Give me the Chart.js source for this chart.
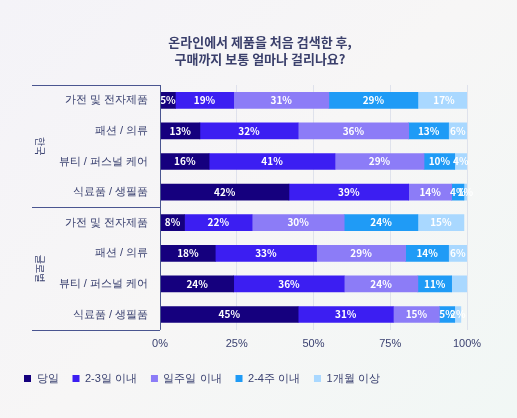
<!DOCTYPE html>
<html>
<head>
<meta charset="utf-8">
<script src="https://cdn.jsdelivr.net/npm/chart.js@4"></script>
<style>
  html, body { margin: 0; padding: 0; }
  body {
    width: 517px; height: 418px; overflow: hidden;
    background: linear-gradient(135deg, #f4f3f8 0%, #f7f6f6 50%, #f1f7f5 100%);
    font-family: "Noto Sans CJK KR", "Noto Sans", sans-serif;
  }
  #wrap { position: absolute; left: 0; top: 0; width: 517px; height: 418px; }
</style>
</head>
<body>
<div id="wrap"><canvas id="chart"></canvas></div>
<script>
// 카테고리
const categories = [
  "가전 및 전자제품", "패션 / 의류", "뷰티 / 퍼스널 케어", "식료품 / 생필품",
  "가전 및 전자제품", "패션 / 의류", "뷰티 / 퍼스널 케어", "식료품 / 생필품"
];
const groups = ["한국", "글로벌"];
const titleLines = ["온라인에서 제품을 처음 검색한 후,", "구매까지 보통 얼마나 걸리나요?"];

// 시리즈 값 (%)
const sameDay   = [5, 13, 16, 42, 8, 18, 24, 45];
const days2to3  = [19, 32, 41, 39, 22, 33, 36, 31];
const withinWeek = [31, 36, 29, 14, 30, 29, 24, 15];
const weeks2to4 = [29, 13, 10, 4, 24, 14, 11, 5];
const overMonth = [17, 6, 4, 1, 15, 6, 5, 2];

const seriesNames = ["당일", "2-3일 이내", "일주일 이내", "2-4주 이내", "1개월 이상"];
const colors = ["#15007e", "#3c1ef2", "#8c7cf7", "#1f9bf6", "#a9d8ff"];
const tickLabels = ["0%", "25%", "50%", "75%", "100%"];

// 라벨을 숨길 막대 (시리즈, 행)
const hiddenLabels = [[4, 6]];

const labelPlugin = {
  id: "segLabels",
  afterDatasetsDraw(chart) {
    const ctx = chart.ctx;
    ctx.save();
    ctx.font = "bold 10px 'Noto Sans CJK KR', sans-serif";
    ctx.fillStyle = "#ffffff";
    ctx.textAlign = "center";
    ctx.textBaseline = "middle";
    chart.data.datasets.forEach((ds, di) => {
      chart.getDatasetMeta(di).data.forEach((bar, i) => {
        if (hiddenLabels.some(h => h[0] === di && h[1] === i)) return;
        const x = (bar.x + bar.base) / 2;
        ctx.fillText(ds.data[i] + "%", x, bar.y);
      });
    });
    ctx.restore();
  }
};

const groupPlugin = {
  id: "groupLines",
  afterDraw(chart) {
    const ctx = chart.ctx;
    const area = chart.chartArea;
    const y = chart.scales.y;
    const step = (y.getPixelForValue(1) - y.getPixelForValue(0));
    const top = y.getPixelForValue(0) - step / 2;
    const mid = y.getPixelForValue(4) - step / 2;
    const bot = y.getPixelForValue(7) + step / 2;
    ctx.save();
    ctx.strokeStyle = "#4a5590";
    ctx.lineWidth = 1;
    ctx.beginPath();
    [top, mid, bot].forEach(py => {
      ctx.moveTo(32, Math.round(py) + 0.5);
      ctx.lineTo(area.left, Math.round(py) + 0.5);
    });
    ctx.moveTo(area.left + 0.5, top);
    ctx.lineTo(area.left + 0.5, bot);
    ctx.stroke();

    ctx.fillStyle = "#3a4170";
    ctx.font = "10px 'Noto Sans CJK KR', sans-serif";
    ctx.textAlign = "center";
    ctx.textBaseline = "middle";
    [[groups[0], (top + mid) / 2], [groups[1], (mid + bot) / 2]].forEach(([t, py]) => {
      ctx.save();
      ctx.translate(40, py);
      ctx.rotate(Math.PI / 2);
      ctx.fillText(t, 0, 0);
      ctx.restore();
    });

    // 제목
    ctx.fillStyle = "#3a3f6b";
    ctx.font = "bold 13px 'Noto Sans CJK KR', sans-serif";
    ctx.fillText(titleLines[0], 260, 42);
    ctx.fillText(titleLines[1], 260, 59);
    ctx.restore();
  }
};

const values = [sameDay, days2to3, withinWeek, weeks2to4, overMonth];

new Chart(document.getElementById("chart"), {
  type: "bar",
  data: {
    labels: categories,
    datasets: values.map((d, i) => ({
      label: seriesNames[i],
      data: d,
      backgroundColor: colors[i],
      borderWidth: 0,
      barThickness: 16
    }))
  },
  options: {
    indexAxis: "y",
    responsive: true,
    maintainAspectRatio: false,
    animation: false,
    layout: { padding: { left: 10, right: 50, top: 85, bottom: 24 } },
    scales: {
      x: {
        stacked: true,
        min: 0,
        max: 100,
        ticks: {
          stepSize: 25,
          color: "#3a4170",
          font: { size: 11 },
          padding: 8,
          callback: (v, i) => tickLabels[i]
        },
        grid: { color: "rgba(200,205,225,0.5)", drawTicks: false },
        border: { display: false }
      },
      y: {
        stacked: true,
        ticks: { color: "#3a4170", font: { size: 11 }, padding: 4 },
        grid: { display: false },
        border: { display: false },
        afterFit(s) { s.width = 150; }
      }
    },
    plugins: {
      legend: {
        position: "bottom",
        align: "start",
        labels: {
          usePointStyle: true,
          pointStyle: "rect",
          boxWidth: 7,
          boxHeight: 7,
          color: "#3a4170",
          font: { size: 11 },
          padding: 14
        }
      },
      tooltip: { enabled: false }
    }
  },
  plugins: [labelPlugin, groupPlugin]
});
</script>
</body>
</html>
